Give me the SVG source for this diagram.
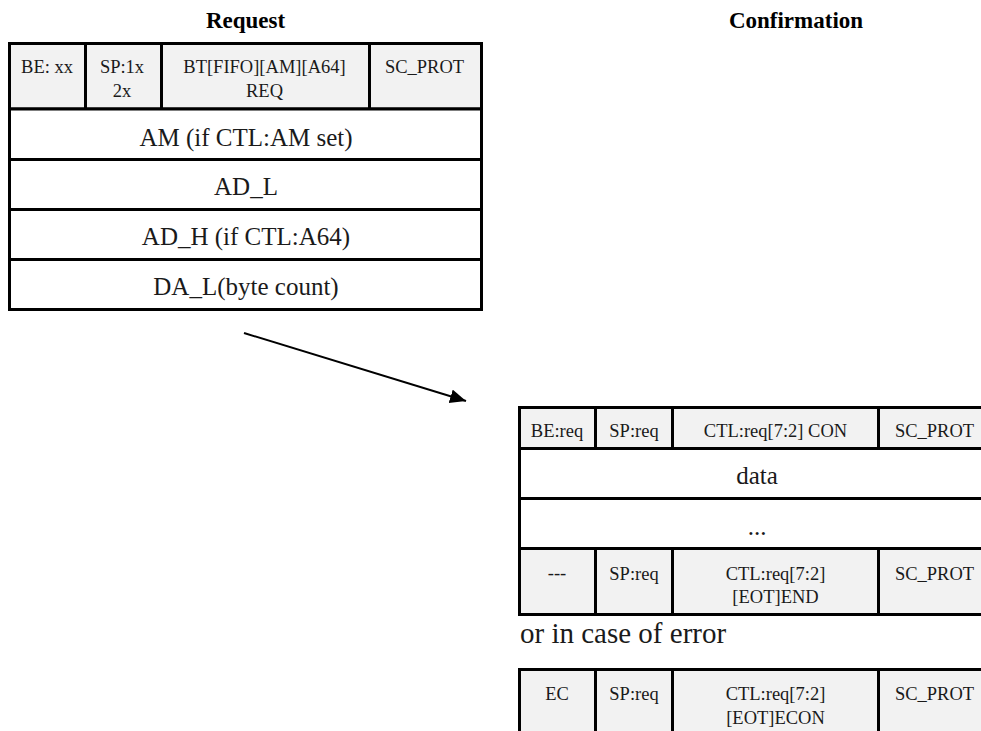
<svg xmlns="http://www.w3.org/2000/svg" width="981" height="731" viewBox="0 0 981 731">
  <style>
    .hd { fill: #f2f2f2; stroke: #000; stroke-width: 3; }
    .bd { fill: #ffffff; stroke: #000; stroke-width: 3; }
    text { font-family: "Liberation Serif", "Times New Roman", serif; fill: #1a1a1a; text-anchor: middle; }
    .title { font-size: 23px; font-weight: bold; fill: #000; }
    .sm { font-size: 18.5px; }
    .lg { font-size: 25px; }
    .note { font-size: 29px; text-anchor: start; }
  </style>
  <defs>
    <marker id="arrowhead" markerUnits="userSpaceOnUse" markerWidth="17" markerHeight="15" refX="16" refY="7" orient="auto">
      <path d="M0,0 L16,7 L0,14 Z" fill="#000"/>
    </marker>
  </defs>

  <rect width="981" height="731" fill="#fff"/>

  <!-- column titles -->
  <text class="title" x="245.5" y="28">Request</text>
  <text class="title" x="796" y="28">Confirmation</text>

  <!-- request packet -->
  <g id="request">
    <g id="req-be">
      <rect class="hd" x="9.5" y="43.5" width="76" height="65.5"/>
      <text class="sm" x="47" y="72.7">BE: xx</text>
    </g>
    <g id="req-sp">
      <rect class="hd" x="85.5" y="43.5" width="76" height="65.5"/>
      <text class="sm" x="122" y="72.7">SP:1x</text>
      <text class="sm" x="122" y="96.7">2x</text>
    </g>
    <g id="req-bt">
      <rect class="hd" x="161.5" y="43.5" width="208" height="65.5"/>
      <text class="sm" x="264.5" y="72.7">BT[FIFO][AM][A64]</text>
      <text class="sm" x="264.5" y="96.7">REQ</text>
    </g>
    <g id="req-scprot">
      <rect class="hd" x="369.5" y="43.5" width="112" height="65.5"/>
      <text class="sm" x="424.5" y="72.7">SC_PROT</text>
    </g>
    <g id="req-am">
      <rect class="bd" x="9.5" y="109" width="472" height="50.5"/>
      <text class="lg" x="246" y="145.5">AM (if CTL:AM set)</text>
    </g>
    <g id="req-adl">
      <rect class="bd" x="9.5" y="159.5" width="472" height="50"/>
      <text class="lg" x="246" y="195.3">AD_L</text>
    </g>
    <g id="req-adh">
      <rect class="bd" x="9.5" y="209.5" width="472" height="50"/>
      <text class="lg" x="246" y="245.3">AD_H (if CTL:A64)</text>
    </g>
    <g id="req-dal">
      <rect class="bd" x="9.5" y="259.5" width="472" height="50"/>
      <text class="lg" x="246" y="295.3">DA_L(byte count)</text>
    </g>
  </g>

  <!-- confirmation packet -->
  <g id="confirmation">
    <g id="con-be">
      <rect class="hd" x="519.5" y="407.5" width="76" height="41"/>
      <text class="sm" x="557" y="437.3">BE:req</text>
    </g>
    <g id="con-sp">
      <rect class="hd" x="595.5" y="407.5" width="77" height="41"/>
      <text class="sm" x="634" y="437.3">SP:req</text>
    </g>
    <g id="con-ctl">
      <rect class="hd" x="672.5" y="407.5" width="206" height="41"/>
      <text class="sm" x="775.5" y="437.3">CTL:req[7:2] CON</text>
    </g>
    <g id="con-scprot">
      <rect class="hd" x="878.5" y="407.5" width="112" height="41"/>
      <text class="sm" x="934.5" y="437.3">SC_PROT</text>
    </g>
    <g id="con-data">
      <rect class="bd" x="519.5" y="448.5" width="471" height="50"/>
      <text class="lg" x="757" y="484">data</text>
    </g>
    <g id="con-more">
      <rect class="bd" x="519.5" y="498.5" width="471" height="50"/>
      <text class="lg" x="757" y="534.5">...</text>
    </g>
    <g id="end-be">
      <rect class="hd" x="519.5" y="548.5" width="76" height="66"/>
      <text class="sm" x="557" y="578.5">---</text>
    </g>
    <g id="end-sp">
      <rect class="hd" x="595.5" y="548.5" width="77" height="66"/>
      <text class="sm" x="634" y="579.5">SP:req</text>
    </g>
    <g id="end-ctl">
      <rect class="hd" x="672.5" y="548.5" width="206" height="66"/>
      <text class="sm" x="775.5" y="579.5">CTL:req[7:2]</text>
      <text class="sm" x="775.5" y="603">[EOT]END</text>
    </g>
    <g id="end-scprot">
      <rect class="hd" x="878.5" y="548.5" width="112" height="66"/>
      <text class="sm" x="934.5" y="579.5">SC_PROT</text>
    </g>
  </g>

  <text class="note" x="520" y="643.3">or in case of error</text>

  <!-- error confirmation -->
  <g id="error">
    <g id="err-ec">
      <rect class="hd" x="519.5" y="669.5" width="76" height="80"/>
      <text class="sm" x="557" y="700">EC</text>
    </g>
    <g id="err-sp">
      <rect class="hd" x="595.5" y="669.5" width="77" height="80"/>
      <text class="sm" x="634" y="700">SP:req</text>
    </g>
    <g id="err-ctl">
      <rect class="hd" x="672.5" y="669.5" width="206" height="80"/>
      <text class="sm" x="775.5" y="700">CTL:req[7:2]</text>
      <text class="sm" x="775.5" y="723.5">[EOT]ECON</text>
    </g>
    <g id="err-scprot">
      <rect class="hd" x="878.5" y="669.5" width="112" height="80"/>
      <text class="sm" x="934.5" y="700">SC_PROT</text>
    </g>
  </g>

  <!-- connectors -->
  <g id="connectors">
    <line x1="244" y1="333" x2="466" y2="401" stroke="#000" stroke-width="2" marker-end="url(#arrowhead)"/>
  </g>
</svg>
